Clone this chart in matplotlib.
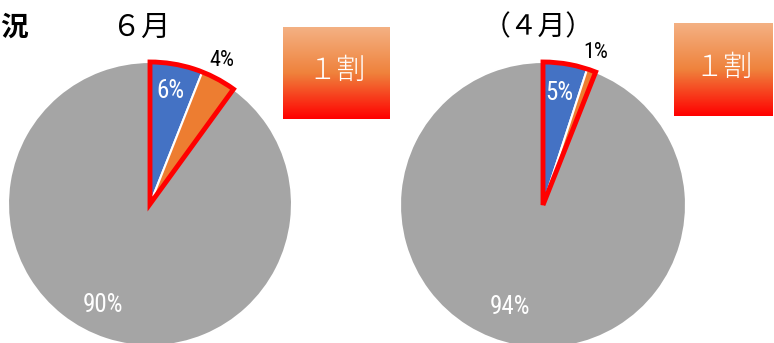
import numpy as np
import matplotlib
matplotlib.use("Agg")
import matplotlib.pyplot as plt
from matplotlib.patches import Wedge

plt.rcParams['font.family'] = ['Noto Sans CJK JP', 'DejaVu Sans']

# data
june_values = [6, 4, 90]
april_values = [5, 1, 94]
slice_colors = ['#4472C4', '#ED7D31', '#A5A5A5']
title_left = '況'
title_june = '６月'
title_april = '（４月）'
box_text = '１割'

narrow = ['Roboto Condensed', 'DejaVu Sans']

W, H = 774, 343
fig = plt.figure(figsize=(W / 100, H / 100), dpi=100)
ax = fig.add_axes([0, 0, 1, 1])


def draw_pie(values, cx, cy, r, label_pos):
    total = sum(values)
    ax.pie(values, center=(cx, cy), radius=r, startangle=90, counterclock=False,
           colors=slice_colors, frame=True,
           wedgeprops=dict(edgecolor='white', linewidth=1.5))
    hl = (values[0] + values[1]) / total * 360
    ax.add_patch(Wedge((cx, cy), r, 90 - hl, 90, fill=False, edgecolor='#FF0000',
                       linewidth=3.5, joinstyle='miter', zorder=5))
    cols = ['white', 'black', 'white']
    sizes = [18, 16, 18]
    for v, (lx, ly), c, s in zip(values, label_pos, cols, sizes):
        ax.text(lx, H - ly, f'{v}%', color=c, fontsize=s, family=narrow,
                ha='center', va='center', zorder=6)


draw_pie(june_values, 150, H - 204, 142, [(170, 91), (222, 60), (103, 305)])
draw_pie(april_values, 543, H - 205, 143, [(559, 93), (596, 53), (510, 307)])

# gradient boxes
top = np.array([244, 177, 131]) / 255
mid = np.array([239, 130, 60]) / 255
bot = np.array([255, 0, 0]) / 255
n = 100
t = np.linspace(0, 1, n)
grad = np.zeros((n, 1, 3))
for i, tt in enumerate(t):
    if tt < 0.5:
        grad[i, 0] = top + (mid - top) * (tt / 0.5)
    else:
        grad[i, 0] = mid + (bot - mid) * ((tt - 0.5) / 0.5)


def box(x0, x1, y0, y1):
    ax.imshow(grad, extent=(x0, x1, H - y1, H - y0), aspect='auto', zorder=3,
              interpolation='bilinear')
    ax.text((x0 + x1) / 2, H - (y0 + y1) / 2 + 2, box_text, color='white',
            fontsize=21, ha='center', va='center', zorder=4, fontweight=300)


box(283, 390, 27, 119)
box(674, 773, 23, 116)

ax.text(0, H - 28, title_left, fontsize=20, fontweight='bold', ha='left', va='center')
ax.text(141, H - 28, title_june, fontsize=21, ha='center', va='center')
ax.text(538, H - 27, title_april, fontsize=20, ha='center', va='center')

ax.set_xlim(0, W)
ax.set_ylim(0, H)
ax.set_aspect('equal')
ax.axis('off')

fig.savefig('out.png', dpi=100)
